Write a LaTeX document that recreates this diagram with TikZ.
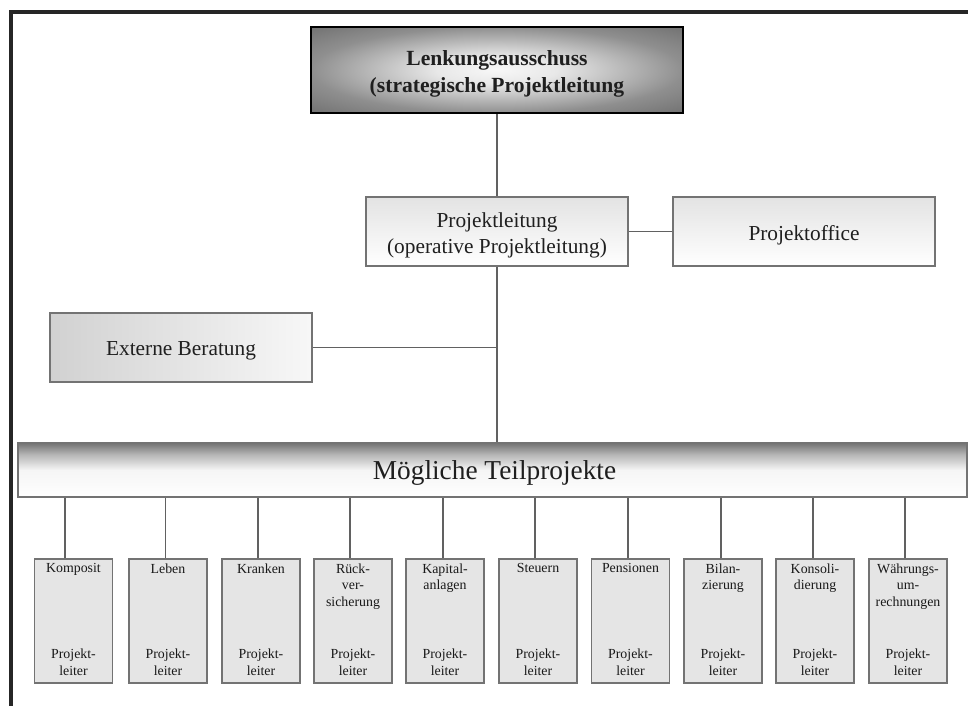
\documentclass[tikz,border=0pt]{standalone}
\usepackage{fontspec}
\setmainfont{Liberation Serif}
\pgfdeclareradialshading{lenkshade}{\pgfpoint{0bp}{0bp}}{color(0bp)=(black!3); color(8bp)=(black!9); color(25bp)=(black!44); color(36bp)=(black!56); color(50bp)=(black!56)}
\pgfdeclareverticalshading{barshade}{100bp}{color(0bp)=(white); color(25bp)=(white); color(50bp)=(black!4); color(64bp)=(black!28); color(75bp)=(black!55); color(100bp)=(black!55)}
\begin{document}
\begin{tikzpicture}[x=0.75pt,y=-0.75pt,
  conn/.style={draw=black!62, line width=1.1pt},
  bigbox/.style={draw=black!55, line width=1.1pt, minimum width=196.5pt, minimum height=51.75pt, inner sep=0pt},
  bigtext/.style={align=center, font=\fontsize{16}{19.5}\selectfont, inner sep=0pt, text=black!88},
  lenkbox/.style={draw=black, line width=2.2pt, shade, shading=lenkshade, minimum width=279pt, minimum height=64.5pt, inner sep=0pt},
  lenktext/.style={align=center, font=\bfseries\fontsize{16.2}{20}\selectfont, inner sep=0pt, text=black!88},
  barbox/.style={draw=black!55, line width=1.1pt, shade, shading=barshade, minimum width=711.75pt, minimum height=40.5pt, inner sep=0pt},
  bartext/.style={font=\fontsize{20.5}{24}\selectfont, inner sep=0pt, text=black!88},
  subbox/.style={draw=black!55, line width=1.1pt, fill=black!10, minimum width=58.5pt, minimum height=93pt, inner sep=0pt},
  subtext/.style={font=\fontsize{10.4}{12.5}\selectfont, align=center, inner sep=0pt, text=black!90}
]
\useasboundingbox (0,0) rectangle (968,706);
\fill[white] (0,0) rectangle (968,706);
% frame
\draw[line width=2.3pt, black!85] (11,706) -- (11,12) -- (968,12);

\node[lenkbox] (lenk) at (497,70) {};
\node[lenktext] (lenkT) at ([yshift=-3pt]lenk.center) {Lenkungsausschuss\\(strategische Projektleitung};
\node[bigbox, top color=black!11, bottom color=white] (pl) at (497,231.5) {};
\node[bigtext] (plT) at ([yshift=-3pt]pl.center) {Projektleitung\\(operative Projektleitung)};
\node[bigbox, top color=black!11, bottom color=white] (po) at (804,231.5) {};
\node[bigtext] (poT) at ([yshift=-2.5pt]po.center) {Projektoffice};
\node[bigbox, left color=black!18, right color=black!3] (ext) at (181,347.5) {};
\node[bigtext] (extT) at ([yshift=-2.5pt]ext.center) {Externe Beratung};
\node[barbox] (bar) at (492.5,470) {};
\node[bartext] (barT) at ([xshift=1.5pt,yshift=-2pt]bar.center) {Mögliche Teilprojekte};

\draw[conn] (lenk.south) -- (pl.north);
\draw[conn] (pl.east) -- (po.west);
\draw[conn] (pl.south) -- (pl.south |- bar.north);
\draw[conn] (ext.east) -- (ext.east -| pl.south);

\foreach \i/\cx/\lab/\off in {
  1/73.5/{Komposit}/-6.4pt,
  2/168/{Leben}/-1.9pt,
  3/261/{Kranken}/-2.2pt,
  4/353/{Rück-\\ver-\\sicherung}/-2.2pt,
  5/445/{Kapital-\\anlagen}/-1.6pt,
  6/538/{Steuern}/-2.2pt,
  7/630.5/{Pensionen}/-1.9pt,
  8/723/{Bilan-\\zierung}/-1.6pt,
  9/815/{Konsoli-\\dierung}/-1.6pt,
  10/908/{Währungs-\\um-\\rechnungen}/-2.2pt}{
  \node[subbox] (s\i) at (\cx,621) {};
  \node[subtext, anchor=north] (t\i) at ([yshift=-3.75pt]s\i.north) {\lab};
  \node[subtext, anchor=south] (p\i) at ([yshift=6pt]s\i.south) {Projekt-\\leiter};
  \draw[conn] ([xshift=\off]s\i.north) -- ([xshift=\off]s\i.north |- bar.south);
}
\end{tikzpicture}
\end{document}
